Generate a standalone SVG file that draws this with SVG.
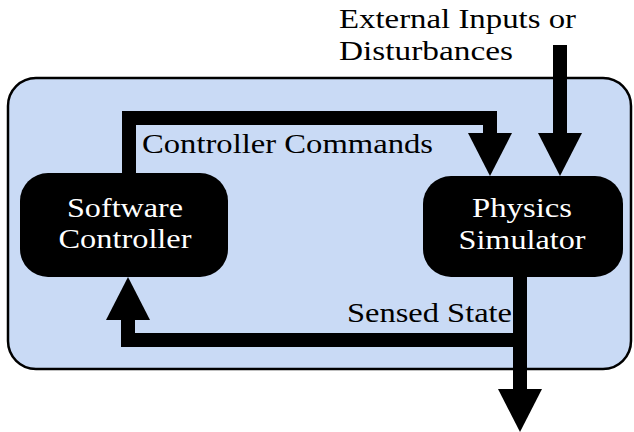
<svg xmlns="http://www.w3.org/2000/svg" width="634" height="432" viewBox="0 0 634 432">
  <style>
    .lbl { font-family: "Liberation Serif", "DejaVu Serif", serif; font-size: 27px; fill: #000; }
    .node-text { font-family: "Liberation Serif", "DejaVu Serif", serif; font-size: 27px; fill: #fff; text-anchor: middle; }
    .node-box { fill: #000; }
    .wire { fill: none; stroke: #000; stroke-width: 14; stroke-linejoin: miter; stroke-linecap: butt; }
  </style>
  <defs>
    <marker id="head" viewBox="0 0 43 44" refX="0" refY="22" markerWidth="43" markerHeight="44" markerUnits="userSpaceOnUse" orient="auto">
      <path d="M0,0 L43,22 L0,44 Z" fill="#000"/>
    </marker>
  </defs>

  <!-- system boundary -->
  <rect id="system" x="8" y="78" width="623" height="291" rx="28" ry="28" fill="#c9daf5" stroke="#000" stroke-width="2.5"/>

  <!-- external label -->
  <text class="lbl" x="339" y="28" textLength="237" lengthAdjust="spacingAndGlyphs">External Inputs or</text>
  <text class="lbl" x="339" y="60" textLength="174" lengthAdjust="spacingAndGlyphs">Disturbances</text>

  <!-- connectors -->
  <g id="connectors">
    <path class="wire" d="M129,176 V118 H490 V133" marker-end="url(#head)"/>
    <path class="wire" d="M560,45 V133" marker-end="url(#head)"/>
    <path class="wire" d="M520,274 V389" marker-end="url(#head)"/>
    <path class="wire" d="M520,340 H128 V320" marker-end="url(#head)"/>
    <text class="lbl" x="142" y="153" textLength="291" lengthAdjust="spacingAndGlyphs">Controller Commands</text>
    <text class="lbl" x="347" y="322" textLength="165" lengthAdjust="spacingAndGlyphs">Sensed State</text>
  </g>

  <!-- nodes -->
  <g id="software-controller">
    <rect class="node-box" x="20" y="173" width="208" height="104" rx="28" ry="28"/>
    <text class="node-text" x="125" y="217" textLength="116" lengthAdjust="spacingAndGlyphs">Software</text>
    <text class="node-text" x="125" y="248" textLength="133" lengthAdjust="spacingAndGlyphs">Controller</text>
  </g>
  <g id="physics-simulator">
    <rect class="node-box" x="423" y="176" width="200" height="101" rx="28" ry="28"/>
    <text class="node-text" x="522" y="217" textLength="100" lengthAdjust="spacingAndGlyphs">Physics</text>
    <text class="node-text" x="522" y="249" textLength="127" lengthAdjust="spacingAndGlyphs">Simulator</text>
  </g>
</svg>
